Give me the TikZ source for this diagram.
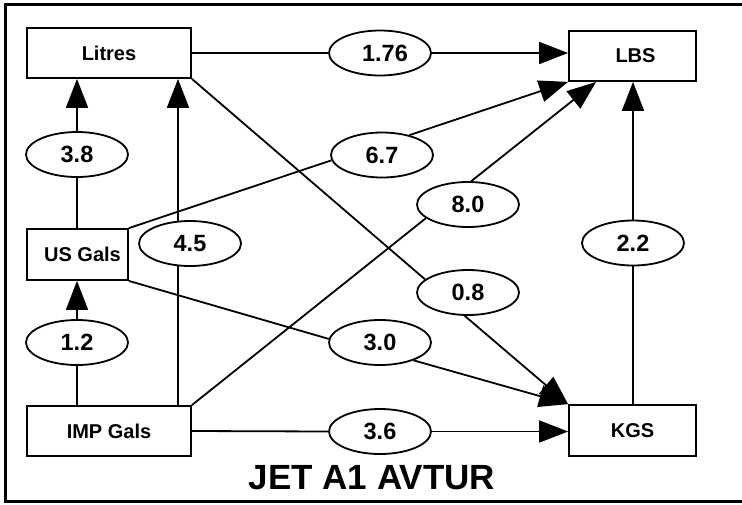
\documentclass[tikz,border=0pt]{standalone}
\usepackage{fontspec}
\setmainfont{Liberation Sans}
\usetikzlibrary{shapes.geometric,arrows.meta}
\pgfdeclarelayer{bg}
\pgfsetlayers{bg,main}
\begin{document}
\begin{tikzpicture}[x=1pt,y=-1pt,
  box/.style={draw,line width=1.8pt,inner sep=0pt,font=\fontsize{20}{24}\selectfont\bfseries},
  val/.style={draw,ellipse,line width=1.8pt,fill=white,inner sep=0pt,minimum width=102pt,minimum height=45pt,font=\fontsize{23.5}{27}\selectfont\bfseries},
  edge/.style={line width=1.8pt},
  arr/.style={edge,-{Triangle[length=29pt,width=22pt]}}]
\useasboundingbox (0,0) rectangle (742,504);
\draw[line width=3pt] (5.5,4.7) rectangle (748,501.5);
% boxes
\node[box,minimum width=164pt,minimum height=50pt] (litres) at (109,53) {Litres};
\node[box,minimum width=127pt,minimum height=50pt] (lbs) at (632.5,56) {\hspace{6pt}LBS};
\node[box,minimum width=101pt,minimum height=51pt] (usgals) at (77.5,254.5) {\hspace{10pt}US Gals};
\node[box,minimum width=164pt,minimum height=50pt] (impgals) at (109,431) {IMP Gals};
\node[box,minimum width=127pt,minimum height=51pt] (kgs) at (632.5,430.5) {KGS};
% values
\node[val] (e176) at (380,53) {\hspace{10pt}1.76};
\node[val] (e38) at (77,154.5) {3.8};
\node[val] (e67) at (382,155) {6.7};
\node[val] (e80) at (468,204.5) {8.0};
\node[val] (e45) at (190,243.5) {4.5};
\node[val] (e22) at (633,243) {2.2};
\node[val] (e08) at (468,292.5) {0.8};
\node[val] (e30) at (380,342.5) {3.0};
\node[val] (e12) at (77,342.5) {1.2};
\node[val] (e36) at (380,431.5) {3.6};
\coordinate (c45) at (178,243.5);
% title
\node[inner sep=0pt,font=\fontsize{35}{40}\selectfont\bfseries] (title) at (372,478) {JET A1 AVTUR};
\begin{pgfonlayer}{bg}
\draw[edge] (litres.east |- e176) -- (e176.west);
\draw[arr] (e176.east) -- (e176.east -| lbs.west);
\draw[edge] (usgals.north -| e38) -- (e38.south);
\draw[arr] (e38.north) -- (e38 |- litres.south);
\draw[edge] (impgals.north -| e12) -- (e12.south);
\draw[arr] (e12.north) -- (e12 |- usgals.south);
\draw[arr] (impgals.north -| c45) -- (litres.south -| c45);
\draw[edge] (usgals.north east) -- (e67.186);
\draw[arr] (e67.36) -- (lbs.south west);
\draw[edge] (impgals.north east) -- (e80.198);
\draw[arr] (e80.82) -- ([xshift=28pt]lbs.south west);
\draw[edge] (litres.south east) -- (e08.163);
\draw[arr] (e08.262) -- (kgs.north west);
\draw[edge] (usgals.south east) -- (e30.176);
\draw[arr] (e30.332) -- (kgs.north west);
\draw[edge] (impgals.east) -- (e36.west);
\draw[arr] (e36.east) -- (kgs.west |- e36);
\draw[edge] (kgs.north -| e22) -- (e22.south);
\draw[arr] (e22.north) -- (e22 |- lbs.south);
\end{pgfonlayer}
\end{tikzpicture}
\end{document}
